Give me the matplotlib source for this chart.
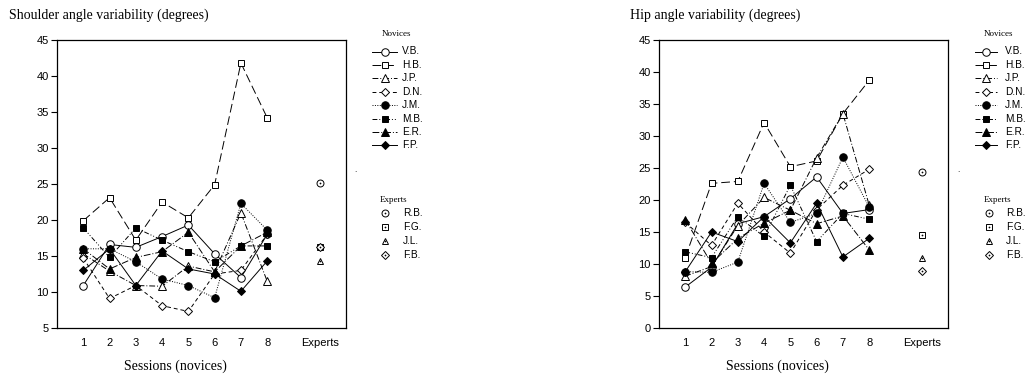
import matplotlib.pyplot as plt

# Sessions 1-8 for the novices, experts plotted on their own slot at x=10
sessions = [1, 2, 3, 4, 5, 6, 7, 8]
expert_x = 10
x_ticks = [1, 2, 3, 4, 5, 6, 7, 8, 10]
x_labels = ['1', '2', '3', '4', '5', '6', '7', '8', 'Experts']

novices = ['V.B.', 'H.B.', 'J.P.', 'D.N.', 'J.M.', 'M.B.', 'E.R.', 'F.P.']
experts = ['R.B.', 'F.G.', 'J.L.', 'F.B.']

# Shoulder angle variability (degrees)
shoulder_vb = [10.9, 16.6, 16.2, 17.7, 19.3, 15.3, 12.0, 18.0]
shoulder_hb = [19.9, 23.1, 17.2, 22.5, 20.3, 24.9, 41.8, 34.2]
shoulder_jp = [15.3, 12.9, 10.9, 10.8, 13.6, 12.8, 21.0, 11.5]
shoulder_dn = [14.7, 9.1, 10.9, 8.1, 7.3, 12.5, 13.0, 18.0]
shoulder_jm = [16.0, 16.0, 14.2, 11.8, 10.9, 9.2, 22.3, 18.6]
shoulder_mb = [18.9, 14.8, 18.9, 17.2, 15.6, 14.2, 16.4, 16.4]
shoulder_er = [16.0, 13.2, 14.8, 15.6, 18.3, 12.8, 16.4, 18.3]
shoulder_fp = [13.0, 16.0, 10.9, 15.7, 13.2, 12.5, 10.1, 14.3]
shoulder_experts = [25.2, 16.3, 14.3, 16.3]

# Hip angle variability (degrees)
hip_vb = [6.4, 9.5, 16.3, 17.4, 20.2, 23.6, 17.9, 18.5]
hip_hb = [11.0, 22.6, 22.9, 32.1, 25.2, 26.1, 33.5, 38.7]
hip_jp = [8.1, 9.6, 16.0, 20.4, 18.4, 26.6, 33.5, 19.2]
hip_dn = [16.5, 12.9, 19.5, 15.0, 11.7, 18.5, 22.3, 24.8]
hip_jm = [8.8, 8.7, 10.3, 22.6, 16.5, 17.9, 26.7, 18.9]
hip_mb = [11.9, 11.0, 17.4, 14.3, 22.3, 13.5, 17.9, 17.0]
hip_er = [16.9, 10.1, 14.0, 16.4, 18.4, 16.3, 17.5, 12.2]
hip_fp = [8.8, 15.0, 13.5, 17.4, 13.3, 19.5, 11.1, 14.0]
hip_experts = [24.4, 14.6, 11.0, 8.9]

# marker, face colour, line dashes for each novice
novice_styles = [
    ('o', 'white', '-'),
    ('s', 'white', (0, (9, 4))),
    ('^', 'white', (0, (6, 2, 1, 2))),
    ('D', 'white', (0, (4, 3))),
    ('o', 'black', (0, (1, 1.5))),
    ('s', 'black', (0, (5, 2, 1, 2, 1, 2))),
    ('^', 'black', (0, (7, 2, 1, 2))),
    ('D', 'black', '-'),
]
expert_markers = ['o', 's', '^', 'D']

SERIF = 'Liberation Serif'
SANS = 'Liberation Sans'
plt.rcParams['font.family'] = SANS

W, H = 1026, 376
fig = plt.figure(figsize=(W / 100, H / 100), dpi=100)


def fx(px):
    return px / W


def fy(py):
    return 1 - py / H


def marker_size(m):
    return {'o': 5.4, 's': 5.0, '^': 5.4, 'D': 4.4}[m]


def expert_mark(ax_or_fig, x, y, m, **kw):
    # open marker with a small dot in the centre
    size = {'o': 5.0, 's': 4.6, '^': 5.0, 'D': 4.2}[m]
    a = plt.Line2D([x], [y], marker=m, ms=size, mfc='white', mec='black',
                   mew=0.7, linestyle='none', **kw)
    b = plt.Line2D([x], [y], marker='o', ms=0.9, mfc='black', mec='black',
                   mew=0.3, linestyle='none', **kw)
    if hasattr(ax_or_fig, 'add_line'):
        ax_or_fig.add_line(a)
        ax_or_fig.add_line(b)
    else:
        ax_or_fig.add_artist(a)
        ax_or_fig.add_artist(b)


def draw_panel(left_px, series, expert_vals, ylim, yticks, title, title_x):
    ax = fig.add_axes([fx(left_px), fy(328), 289 / W, 288 / H])
    for vals, (m, fc, ls) in zip(series, novice_styles):
        ax.plot(sessions, vals, color='black', lw=0.7, linestyle=ls,
                marker=m, ms=marker_size(m), mfc=fc, mec='black', mew=0.7)
    for val, m in zip(expert_vals, expert_markers):
        expert_mark(ax, expert_x, val, m)
    ax.set_xlim(0, 11)
    ax.set_ylim(*ylim)
    ax.set_yticks(yticks)
    ax.set_xticks(x_ticks)
    ax.set_xticklabels(x_labels)
    ax.tick_params(axis='x', length=0, pad=7, labelsize=8)
    ax.tick_params(axis='y', length=4, width=0.8, pad=2, labelsize=8)
    for sp in ax.spines.values():
        sp.set_linewidth(0.9)
    ax.text(4.5, -0.134, 'Sessions (novices)', transform=ax.get_xaxis_transform(),
            ha='center', va='center', fontsize=10, family=SERIF)
    fig.text(fx(title_x), fy(15), title, ha='left', va='center',
             fontsize=10, family=SERIF)
    return ax


def draw_legend(line_x0, line_x1, text_x, exp_marker_x):
    # novices: line sample with marker, then name
    fig.text(fx((line_x0 + line_x1) / 2 + 12), fy(34), 'Novices', ha='center',
             va='center', fontsize=6.5, family=SERIF)
    for i, (name, (m, fc, ls)) in enumerate(zip(novices, novice_styles)):
        y = fy(51.5 + i * 13.4)
        fig.add_artist(plt.Line2D([fx(line_x0), fx(line_x1)], [y, y],
                                  color='black', lw=0.7, linestyle=ls))
        fig.add_artist(plt.Line2D([fx((line_x0 + line_x1) / 2)], [y],
                                  marker=m, ms=marker_size(m), mfc=fc,
                                  mec='black', mew=0.7, linestyle='none'))
        fig.text(fx(text_x), y, name, ha='left', va='center', fontsize=7.3)
    fig.text(fx(exp_marker_x + 9), fy(200), 'Experts', ha='center',
             va='center', fontsize=6.5, family=SERIF)
    for i, (name, m) in enumerate(zip(experts, expert_markers)):
        y = fy(212.5 + i * 14)
        expert_mark(fig, fx(exp_marker_x), y, m)
        fig.text(fx(text_x + 1), y, name, ha='left', va='center', fontsize=7.3)


draw_panel(57,
           [shoulder_vb, shoulder_hb, shoulder_jp, shoulder_dn,
            shoulder_jm, shoulder_mb, shoulder_er, shoulder_fp],
           shoulder_experts, (5, 45), range(5, 50, 5),
           'Shoulder angle variability (degrees)', 9)
draw_panel(659,
           [hip_vb, hip_hb, hip_jp, hip_dn, hip_jm, hip_mb, hip_er, hip_fp],
           hip_experts, (0, 45), range(0, 50, 5),
           'Hip angle variability (degrees)', 630)

draw_legend(372, 397, 402, 385)
draw_legend(975, 997, 1005, 989)

# small stray dots beside each legend
fig.text(fx(354), fy(172), '.', fontsize=6)
fig.text(fx(957), fy(172), '.', fontsize=6)

fig.savefig('out.png', dpi=100)
